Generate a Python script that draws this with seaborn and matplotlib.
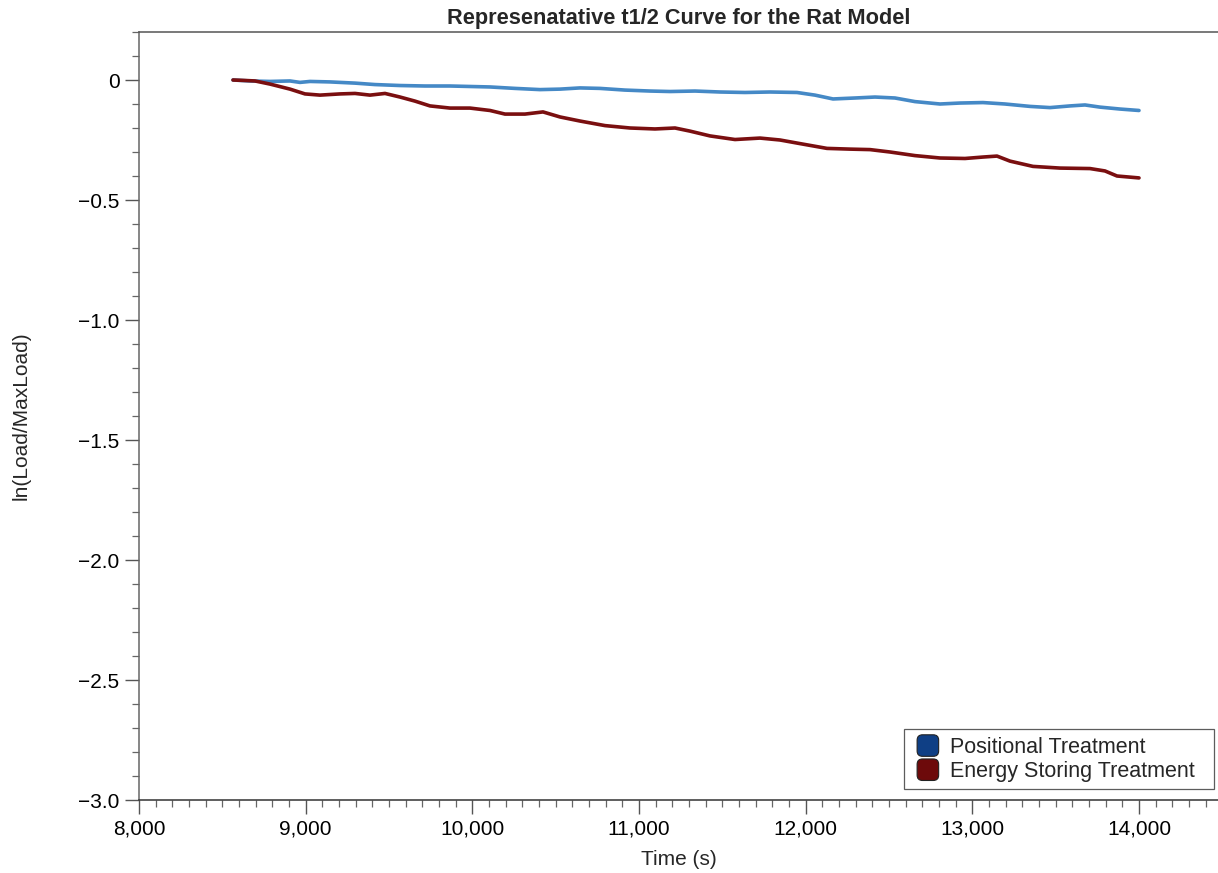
import numpy as np
import pandas as pd
import matplotlib
matplotlib.use("Agg")
import matplotlib.pyplot as plt
import seaborn as sns
from matplotlib.ticker import MultipleLocator, FuncFormatter
from matplotlib.patches import FancyBboxPatch, Patch
from matplotlib.legend_handler import HandlerPatch

# ---- data ----
positional_time = [8564, 8666, 8786, 8906, 8966, 9026, 9146, 9296, 9416, 9566, 9716, 9866,
                   9986, 10106, 10256, 10406, 10526, 10646, 10766, 10916, 11066, 11186, 11336,
                   11486, 11636, 11786, 11948, 12056, 12164, 12296, 12416, 12536, 12656, 12806,
                   12926, 13064, 13196, 13346, 13466, 13586, 13676, 13766, 13886, 14000]
positional_lnload = [0.000, -0.004, -0.006, -0.004, -0.010, -0.006, -0.008, -0.013, -0.019,
                     -0.023, -0.025, -0.025, -0.027, -0.029, -0.035, -0.040, -0.038, -0.033,
                     -0.035, -0.042, -0.046, -0.048, -0.046, -0.050, -0.052, -0.050, -0.052,
                     -0.063, -0.079, -0.075, -0.071, -0.075, -0.090, -0.100, -0.096, -0.094,
                     -0.100, -0.110, -0.115, -0.108, -0.104, -0.113, -0.121, -0.127]

energy_time = [8564, 8636, 8696, 8786, 8906, 8996, 9086, 9206, 9296, 9386, 9476, 9566, 9656,
               9746, 9866, 9986, 10106, 10196, 10316, 10424, 10526, 10646, 10796, 10946, 11096,
               11216, 11306, 11426, 11576, 11726, 11846, 11966, 12128, 12266, 12386, 12506,
               12656, 12806, 12956, 13064, 13148, 13226, 13364, 13526, 13706, 13796, 13868, 14000]
energy_lnload = [0.000, -0.002, -0.004, -0.017, -0.038, -0.058, -0.063, -0.058, -0.056, -0.063,
                 -0.056, -0.071, -0.088, -0.108, -0.117, -0.117, -0.127, -0.142, -0.142, -0.133,
                 -0.154, -0.171, -0.190, -0.200, -0.204, -0.200, -0.213, -0.233, -0.248, -0.242,
                 -0.250, -0.265, -0.285, -0.288, -0.290, -0.300, -0.315, -0.325, -0.327, -0.321,
                 -0.317, -0.338, -0.360, -0.367, -0.369, -0.379, -0.400, -0.408]

series_names = ["Positional Treatment", "Energy Storing Treatment"]
line_colors = ["#4589c6", "#7a0f10"]
legend_colors = ["#0f3f85", "#6d0a0b"]

df = pd.concat([
    pd.DataFrame({"Time (s)": positional_time, "ln": positional_lnload, "Treatment": series_names[0]}),
    pd.DataFrame({"Time (s)": energy_time, "ln": energy_lnload, "Treatment": series_names[1]}),
], ignore_index=True)

sns.set_theme(style="ticks")
plt.rcParams["font.family"] = ["Liberation Sans", "DejaVu Sans"]
plt.rcParams["axes.unicode_minus"] = True

fig = plt.figure(figsize=(12.18, 8.73), dpi=100)
ax = fig.add_axes([139/1218, 1 - 800/873, 1 - 139/1218, (800 - 32)/873])

sns.lineplot(data=df, x="Time (s)", y="ln", hue="Treatment", palette=dict(zip(series_names, line_colors)),
             linewidth=2.6, ax=ax, legend=False, sort=False, estimator=None)

ax.set_xlim(8000, 14474)
ax.set_ylim(-3.0, 0.2)
ax.xaxis.set_major_locator(MultipleLocator(1000))
ax.xaxis.set_minor_locator(MultipleLocator(100))
ax.yaxis.set_major_locator(MultipleLocator(0.5))
ax.yaxis.set_minor_locator(MultipleLocator(0.1))
ax.xaxis.set_major_formatter(FuncFormatter(lambda v, p: f"{int(round(v)):,}"))
def yfmt(v, p):
    if abs(v) < 1e-9:
        return "0"
    return f"{v:.1f}".replace("-", "\u2212")
ax.yaxis.set_major_formatter(FuncFormatter(yfmt))

ax.tick_params(axis="both", which="major", direction="out", length=10, width=1.0,
               color="#555555", labelsize=15, labelcolor="black", pad=4)
ax.tick_params(axis="both", which="minor", direction="out", length=5, width=0.9, color="#666666")

for s in ["left", "bottom", "top"]:
    ax.spines[s].set_visible(True)
    ax.spines[s].set_linewidth(1.1)
ax.spines["left"].set_color("#666666")
ax.spines["top"].set_color("#555555")
ax.spines["bottom"].set_color("#333333")
ax.spines["right"].set_visible(False)

ax.set_xlabel("Time (s)", fontsize=15, labelpad=8)
ax.set_ylabel("ln(Load/MaxLoad)", fontsize=15, labelpad=34)
ax.set_title("Represenatative t1/2 Curve for the Rat Model", fontsize=15.7, fontweight="bold", pad=6)


class RoundHandler(HandlerPatch):
    def create_artists(self, legend, orig_handle, xdescent, ydescent, width, height, fontsize, trans):
        size = fontsize * 1.0
        x0 = -xdescent + width - size
        y0 = -ydescent + (height - size) / 2
        p = FancyBboxPatch((x0, y0), size, size, boxstyle="round,pad=0,rounding_size=%f" % (size * 0.25),
                           facecolor=orig_handle.get_facecolor(), edgecolor="#222222", linewidth=0.8,
                           transform=trans)
        return [p]

handles = [Patch(facecolor=c, label=n + "  ") for c, n in zip(legend_colors, series_names)]
leg = ax.legend(handles=handles, loc="lower right", bbox_to_anchor=(1.002, 0.0065), fontsize=15.5,
                frameon=True, fancybox=False, edgecolor="#333333", handler_map={Patch: RoundHandler()},
                handlelength=1.3, handleheight=1.0, handletextpad=0.55, borderpad=0.3, labelspacing=0.1,
                borderaxespad=0.3)
leg.get_frame().set_linewidth(0.9)

fig.savefig("out.png", dpi=100)
